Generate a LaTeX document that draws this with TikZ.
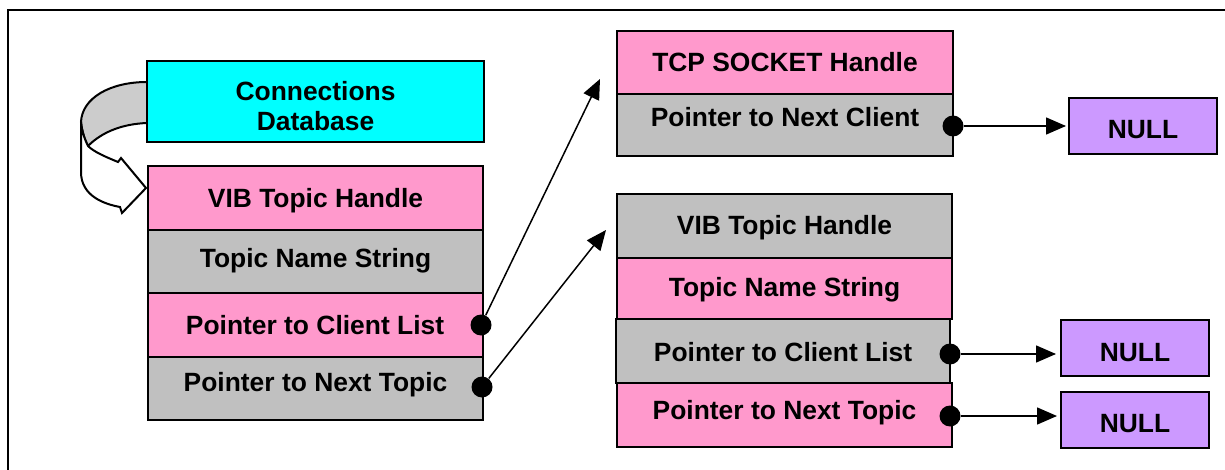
\documentclass[tikz,border=0pt]{standalone}
\usepackage{fontspec}
\setmainfont{Liberation Sans}
\usetikzlibrary{arrows.meta}
\definecolor{cellpink}{HTML}{FF99CC}
\definecolor{cellgray}{HTML}{C0C0C0}
\definecolor{dbcyan}{HTML}{00FFFF}
\definecolor{nullviolet}{HTML}{CC99FF}
\definecolor{foldgray}{HTML}{CCCCCC}
\newcommand\cellfont{\bfseries\fontsize{13.2}{15}\selectfont}

\begin{document}
\begin{tikzpicture}[x=0.5pt, y=-0.5pt,
  cell/.style={draw, line width=1pt, inner sep=0pt, font=\cellfont,
    text height=9.45pt, text depth=0pt,
    minimum width=167.5pt, minimum height=32pt},
  lift/.style={text depth=#1pt},
  drop/.style={text height=#1pt},
  pinkcell/.style={cell, fill=cellpink},
  graycell/.style={cell, fill=cellgray},
  nullbox/.style={cell, fill=nullviolet, minimum width=74pt, minimum height=28pt},
  dot/.style={circle, fill=black, inner sep=0pt, minimum size=10.5pt},
  ptr/.style={line width=0.75pt, -{Triangle[length=10pt,width=8.5pt]}},
  fold/.style={line width=1pt, line join=miter},
]
\useasboundingbox (0,0) rectangle (1225,470);

% outer frame (only top and left edges are visible)
\draw[line width=1pt] (8,470) -- (8,10) -- (1225,10);

% curled block arrow from the database to the first topic
\filldraw[fold, fill=foldgray]
  (147,82) .. controls (110,82) and (82,98) .. (81,122)
  .. controls (82,132) and (85,140) .. (88,146)
  .. controls (102,132) and (122,124) .. (147,123);
\filldraw[fold, fill=white]
  (81,122) -- (81,172) .. controls (81,196) and (104,204) .. (120,207)
  -- (122,213) -- (146,188) -- (121,158) -- (118,162)
  .. controls (106,157) and (94,152) .. (88,146)
  .. controls (85,140) and (82,132) .. (81,122) -- cycle;

% connections database
\node[cell, fill=dbcyan, minimum width=168.5pt, minimum height=40.5pt] (db) at (315.5,101.5) {};
\node[font=\cellfont, align=center, inner sep=0pt] (dbtext) at (315.5,106) {Connections\\Database};

% first topic record
\node[pinkcell] (l1) at (315.5,198) {VIB Topic Handle};
\node[graycell, minimum height=31.5pt, lift=3.5] (l2) at (315.5,261.5) {Topic Name String};
\node[pinkcell] (l3) at (315,325) {Pointer to Client List};
\node[graycell, minimum height=31.5pt, lift=6.5] (l4) at (315.5,388.5) {Pointer to Next Topic};

% client record
\node[pinkcell, minimum width=168pt, minimum height=31.5pt, lift=0.5] (t1) at (785,62.5) {TCP SOCKET Handle};
\node[graycell, minimum width=168pt, minimum height=31pt, lift=8] (t2) at (785,125) {Pointer to Next Client};

% second topic record
\node[graycell, lift=1] (r1) at (784.5,226) {VIB Topic Handle};
\node[pinkcell, minimum height=30.5pt, lift=1.5] (r2) at (784.5,288.5) {Topic Name String};
\node[graycell, minimum width=167pt, drop=10.45] (r3) at (783,351) {Pointer to Client List};
\node[pinkcell, lift=5] (r4) at (784.5,415) {Pointer to Next Topic};

% list terminators
\node[nullbox, drop=12.45] (n1) at (1143,126) {NULL};
\node[nullbox, drop=13.45] (n2) at (1135,348) {NULL};
\node[nullbox, drop=12.45] (n3) at (1135,420) {NULL};

% pointer origins
\node[dot] (dl1) at (481,325) {};
\node[dot] (dl2) at (482,387) {};
\node[dot] (dt)  at (953,126) {};
\node[dot] (dr1) at (950,354) {};
\node[dot] (dr2) at (950,416) {};

% pointer targets
\coordinate (tc) at (600,79);
\coordinate (tt) at (606,230);

% pointers
\draw[ptr] (dl1) -- (tc);
\draw[ptr] (dl2) -- (tt);
\draw[ptr, shorten >=1pt] (dt) -- (dt -| n1.west);
\draw[ptr, shorten >=2pt] (dr1) -- (dr1 -| n2.west);
\draw[ptr, shorten >=1.5pt] (dr2) -- (dr2 -| n3.west);
\end{tikzpicture}
\end{document}
